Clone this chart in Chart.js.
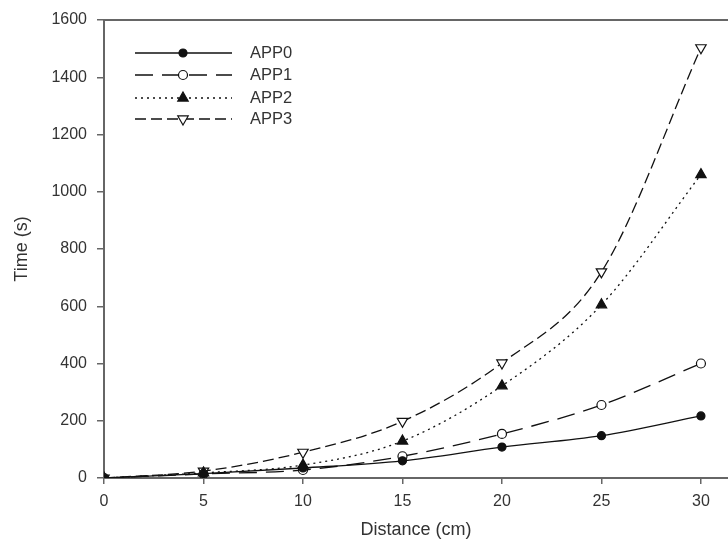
<!DOCTYPE html>
<html>
<head>
<meta charset="utf-8">
<script src="https://cdn.jsdelivr.net/npm/chart.js@4"></script>
<style>
  html, body { margin: 0; padding: 0; background: #fff; }
  #wrap { width: 728px; height: 554px; }
</style>
</head>
<body>
<div id="wrap"><canvas id="chart" width="728" height="554"></canvas></div>
<script>
// distances (cm)
const distance = [0, 5, 10, 15, 20, 25, 30];
// time values (s)
const app0 = [0, 15, 35, 60, 108, 148, 217];
const app1 = [0, 14, 28, 76, 154, 255, 400];
const app2 = [0, 18, 45, 129, 322, 605, 1060];
const app3 = [0, 24, 90, 198, 402, 720, 1503];
const seriesNames = ['APP0', 'APP1', 'APP2', 'APP3'];

const toPoints = vals => vals.map((v, i) => ({ x: distance[i], y: v }));

const ink = '#111';
const axisGray = '#666';
const textGray = '#333';
const font = 'Liberation Sans, Arial, sans-serif';

const datasets = [
  { label: seriesNames[0], data: toPoints(app0), borderDash: [],
    pointStyle: 'circle', pointRadius: 4, pointBackgroundColor: ink, pointRotation: 0 },
  { label: seriesNames[1], data: toPoints(app1), borderDash: [18, 9],
    pointStyle: 'circle', pointRadius: 4.5, pointBackgroundColor: '#fff', pointRotation: 0 },
  { label: seriesNames[2], data: toPoints(app2), borderDash: [2, 4],
    pointStyle: 'triangle', pointRadius: 6, pointBackgroundColor: ink, pointRotation: 0 },
  { label: seriesNames[3], data: toPoints(app3), borderDash: [11, 5],
    pointStyle: 'triangle', pointRadius: 6, pointBackgroundColor: '#fff', pointRotation: 180 }
].map(ds => Object.assign(ds, {
  borderColor: ink,
  borderWidth: 1.3,
  pointBorderColor: ink,
  pointBorderWidth: 1.2,
  cubicInterpolationMode: 'monotone',
  fill: false
}));

// simple marker path for the legend samples
function drawMarker(ctx, ds, x, y) {
  const r = ds.pointRadius;
  if (ds.pointStyle === 'circle') {
    ctx.arc(x, y, r, 0, Math.PI * 2);
  } else {
    const s = ds.pointRotation === 180 ? -1 : 1;
    const h = r * 1.5;
    ctx.moveTo(x, y - s * h * 0.66);
    ctx.lineTo(x + r * 0.87, y + s * h * 0.34);
    ctx.lineTo(x - r * 0.87, y + s * h * 0.34);
    ctx.closePath();
  }
}

// top frame line + hand-drawn legend (line sample with marker in the middle)
const framePlugin = {
  id: 'frameAndLegend',
  afterDraw(chart) {
    const { ctx, chartArea } = chart;
    ctx.save();
    ctx.strokeStyle = axisGray;
    ctx.lineWidth = 2;
    ctx.beginPath();
    ctx.moveTo(chartArea.left, chartArea.top);
    ctx.lineTo(chart.width, chartArea.top);
    ctx.stroke();

    const rows = [53, 75, 98, 119];
    const x0 = 135, x1 = 232, xm = 183;
    chart.data.datasets.forEach((ds, i) => {
      const y = rows[i];
      ctx.strokeStyle = ink;
      ctx.lineWidth = 1.3;
      ctx.setLineDash(ds.borderDash);
      ctx.beginPath();
      ctx.moveTo(x0, y);
      ctx.lineTo(x1, y);
      ctx.stroke();
      ctx.setLineDash([]);
      ctx.fillStyle = ds.pointBackgroundColor;
      ctx.lineWidth = ds.pointBorderWidth;
      ctx.beginPath();
      drawMarker(ctx, ds, xm, y);
      ctx.fill();
      ctx.stroke();
      ctx.fillStyle = textGray;
      ctx.font = '16.5px ' + font;
      ctx.textBaseline = 'middle';
      ctx.textAlign = 'left';
      ctx.fillText(ds.label, 250, y);
    });
    ctx.restore();
  }
};

new Chart(document.getElementById('chart'), {
  type: 'line',
  data: { datasets },
  plugins: [framePlugin],
  options: {
    responsive: false,
    animation: false,
    layout: { autoPadding: false, padding: { top: 20, right: 0, left: 0, bottom: 0 } },
    plugins: {
      legend: { display: false },
      tooltip: { enabled: false }
    },
    scales: {
      x: {
        type: 'linear',
        min: 0,
        max: 31.36,
        afterFit(scale) {
          scale.height = 76;
          scale.paddingRight = 0;
          scale.paddingLeft = 0;
        },
        afterBuildTicks(scale) {
          scale.ticks = distance.map(v => ({ value: v }));
        },
        border: { color: axisGray, width: 2 },
        grid: { drawOnChartArea: false, drawTicks: true, tickLength: 6, color: axisGray, lineWidth: 1.5 },
        ticks: { color: textGray, font: { family: font, size: 16 }, padding: 8, maxRotation: 0 },
        title: {
          display: true, text: 'Distance (cm)', color: textGray,
          font: { family: font, size: 18 }, padding: { top: 0, bottom: 13 }
        }
      },
      y: {
        min: 0,
        max: 1600,
        afterFit(scale) {
          scale.width = 104;
          scale.paddingTop = 0;
          scale.paddingBottom = 0;
        },
        ticks: {
          stepSize: 200, color: textGray, font: { family: font, size: 16 }, padding: 10,
          callback: v => String(v)
        },
        border: { color: axisGray, width: 2 },
        grid: { drawOnChartArea: false, drawTicks: true, tickLength: 7, color: axisGray, lineWidth: 1.5 },
        title: {
          display: true, text: 'Time (s)', color: textGray,
          font: { family: font, size: 18 }, padding: { top: 11, bottom: 0 }
        }
      }
    }
  }
});
</script>
</body>
</html>
